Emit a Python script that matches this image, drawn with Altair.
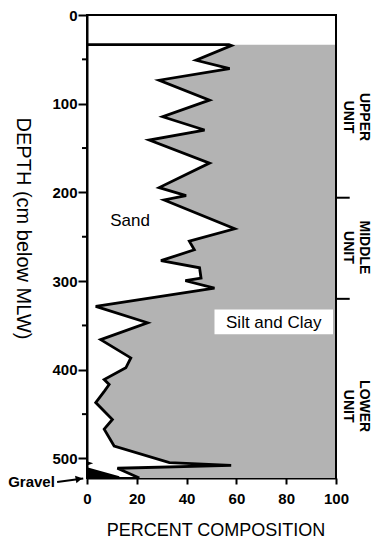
import altair as alt
import pandas as pd

# ---------------- data ----------------
# cumulative (gravel + sand) percent, i.e. the sand / silt-clay boundary
depth_profile = [33.5, 34.5, 51, 60.4, 73.5, 96, 114.7, 129.7, 141, 167,
                 194.6, 203.6, 208.5, 241, 255, 264.7, 277, 285, 296.6, 299.6,
                 307.9, 328.5, 347, 366, 386.6, 397.8, 411, 416.6, 424, 437,
                 456, 467, 486, 504.7, 507.7, 511, 522]
sand_cum = [57, 58, 43.8, 57.3, 29.0, 49.2, 30.4, 47.2, 25.0, 49.2,
            29.0, 39.8, 31.0, 59.3, 41.1, 43.1, 29.7, 45.2, 45.8, 39.5,
            51.2, 3.5, 24.3, 5.5, 17.6, 15.6, 6.9, 8.9, 7.0, 3.5,
            10.2, 6.9, 10.9, 33.1, 57.9, 12.2, 21.0]
core_top = 33.5

gravel_depth = [503, 505.5, 508, 510, 520, 522]
gravel_pct = [0, 2.5, 0, 0, 13, 13]

major_ticks = [0, 100, 200, 300, 400, 500]
minor_ticks = [50, 150, 250, 350, 450]

unit_names = ["UPPER\nUNIT", "MIDDLE\nUNIT", "LOWER\nUNIT"]
unit_centers = [115, 262, 441]
unit_bounds = [206, 320]

area_labels = ["Sand", "Silt and Clay"]
area_label_x = [17.3, 75]
area_label_depth = [232, 347]
label_box_x = [51.2, 98.8]
label_box_depth = [332, 360]

gravel_label_x = -12.9
gravel_label_depth = 526.5
arrow_x = [-12.0, -1.5]
arrow_depth = [526.4, 522.6]

FONT = "Liberation Sans"
STIPPLE = "#b3b3b3"

prof = pd.DataFrame({"depth": depth_profile, "pct": sand_cum,
                     "full": [100] * len(depth_profile)})
line_df = pd.DataFrame({"depth": [core_top] + depth_profile,
                        "pct": [0] + sand_cum,
                        "idx": list(range(len(depth_profile) + 1))})
grav = pd.DataFrame({"depth": gravel_depth, "pct": gravel_pct,
                     "zero": [0] * len(gravel_depth)})
units = pd.DataFrame({"name": unit_names, "depth": unit_centers, "pct": [111.2] * 3})
bounds = pd.DataFrame({"depth": unit_bounds, "pct": [100] * 2, "x2": [105.5] * 2})
minors = pd.DataFrame({"depth": minor_ticks, "pct": [-2.0] * len(minor_ticks),
                       "x2": [0] * len(minor_ticks)})
alabels = pd.DataFrame({"text": area_labels, "pct": area_label_x, "depth": area_label_depth})
box = pd.DataFrame({"pct": [label_box_x[0]], "x2": [label_box_x[1]],
                    "depth": [label_box_depth[0]], "d2": [label_box_depth[1]]})
glabel = pd.DataFrame({"text": ["Gravel"], "pct": [gravel_label_x], "depth": [gravel_label_depth]})
arrow = pd.DataFrame({"pct": arrow_x, "depth": arrow_depth, "idx": [0, 1]})
head = pd.DataFrame({"pct": [-3.2], "depth": [523.0]})
edge = pd.DataFrame({"pct": [100], "depth": [0], "d2": [522]})

xs = alt.Scale(domain=[0, 100], nice=False)
ys = alt.Scale(domain=[0, 522], reverse=True, nice=False)

x_axis = alt.Axis(
    values=list(range(0, 101, 10)),
    labelExpr="datum.value % 20 === 0 ? datum.label : ''",
    tickSize=6, tickWidth=2, tickColor="black",
    domainWidth=2, domainColor="black",
    labelFont=FONT, labelFontSize=15, labelFontWeight="bold", labelColor="black",
    labelPadding=7, labelFlush=False, grid=False,
    title="PERCENT COMPOSITION", titleFont=FONT, titleFontSize=18,
    titleFontWeight="normal", titleColor="black",
    titleX=128.5, titleY=57, titleBaseline="alphabetic", titleAlign="center",
)
y_axis = alt.Axis(
    values=major_ticks,
    tickSize=9, tickWidth=2, tickColor="black",
    domainWidth=2, domainColor="black",
    labelFont=FONT, labelFontSize=15, labelFontWeight="bold", labelColor="black",
    labelPadding=1, grid=False,
    title="DEPTH (cm below MLW)", titleFont=FONT, titleFontSize=20,
    titleFontWeight="normal", titleColor="black",
    titleAngle=90, titleX=-65, titleY=213, titleAlign="center", titleBaseline="middle",
)

X = alt.X("pct:Q", scale=xs)
Y = alt.Y("depth:Q", scale=ys)

silt = alt.Chart(prof).mark_area(orient="horizontal", color=STIPPLE, opacity=1).encode(
    y=alt.Y("depth:Q", scale=ys, axis=y_axis),
    x=alt.X("pct:Q", scale=xs, axis=x_axis),
    x2="full:Q",
)

gravel = alt.Chart(grav).mark_area(orient="horizontal", color="black", opacity=1).encode(
    y=Y, x=X, x2="zero:Q",
)

line = alt.Chart(line_df).mark_line(color="black", strokeWidth=2.8).encode(
    y=Y, x=X, order="idx:Q",
)

boxl = alt.Chart(box).mark_rect(color="white").encode(
    x=X, x2="x2:Q", y=Y, y2="d2:Q",
)

labels = alt.Chart(alabels).mark_text(font=FONT, fontSize=17, color="black",
                                      align="center", baseline="middle").encode(
    x=X, y=Y, text="text:N",
)

unit_text = alt.Chart(units).mark_text(font=FONT, fontSize=14, fontWeight="bold",
                                       color="black", angle=90, lineBreak="\n",
                                       lineHeight=16, align="center",
                                       baseline="middle").encode(
    x=X, y=Y, text="name:N",
)

unit_ticks = alt.Chart(bounds).mark_rule(color="black", strokeWidth=2).encode(
    x=X, x2="x2:Q", y=Y,
)

minor_rules = alt.Chart(minors).mark_rule(color="black", strokeWidth=2).encode(
    x=X, x2="x2:Q", y=Y,
)

right_edge = alt.Chart(edge).mark_rule(color="black", strokeWidth=2).encode(
    x=X, y=Y, y2="d2:Q",
)

gl = alt.Chart(glabel).mark_text(font=FONT, fontSize=15, fontWeight="bold",
                                 color="black", align="right", baseline="middle").encode(
    x=X, y=Y, text="text:N",
)

arrow_line = alt.Chart(arrow).mark_line(color="black", strokeWidth=2).encode(
    x=X, y=Y, order="idx:Q",
)

arrow_head = alt.Chart(head).mark_point(shape="triangle-right", filled=True,
                                        color="black", size=60, angle=350,
                                        opacity=1).encode(
    x=X, y=Y,
)

chart = alt.layer(
    silt, gravel, line, boxl, labels, unit_text, unit_ticks, minor_rules,
    right_edge, gl, arrow_line, arrow_head,
).properties(
    width=249, height=463,
    padding={"left": 79, "top": 7, "right": 37, "bottom": 62},
    autosize=alt.AutoSizeParams(type="none"),
).configure_view(
    stroke="black", strokeWidth=2,
).configure_axis(zindex=1)

chart.save("out.html", embed_options={"renderer": "svg", "actions": False})
